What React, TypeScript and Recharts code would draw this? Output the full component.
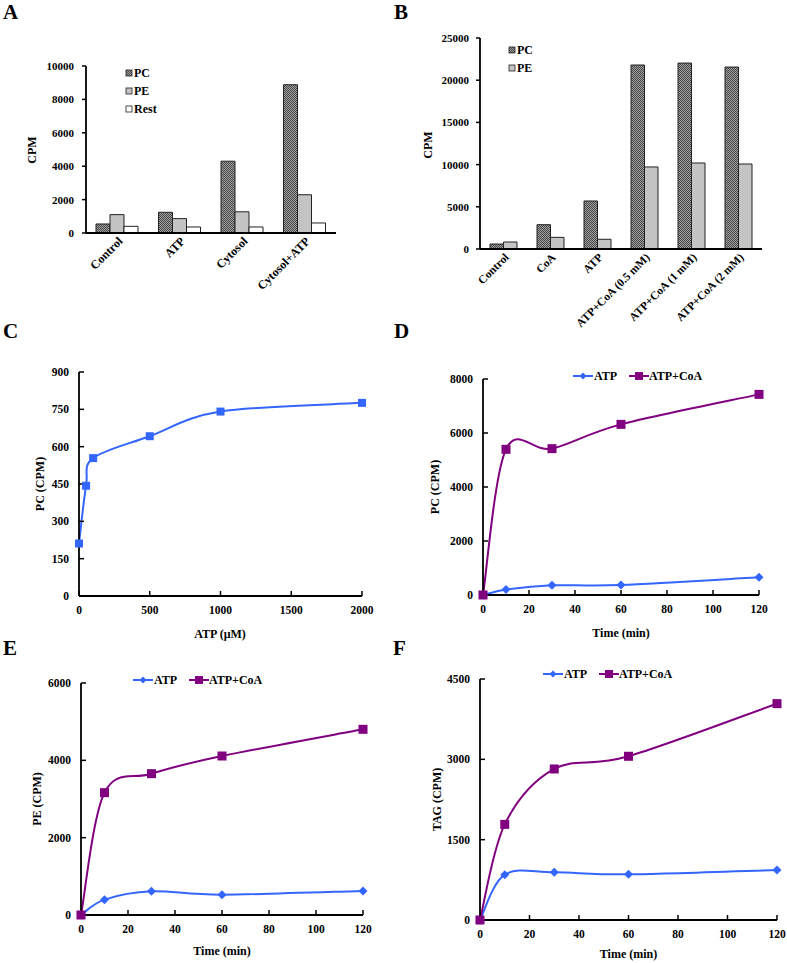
import React from 'react';
import { BarChart, Bar, LineChart, Line, XAxis, YAxis, Legend } from 'recharts';

const FONT = '"Liberation Serif", "Times New Roman", serif';

// ---------- Panel A ----------
const catsA = ['Control', 'ATP', 'Cytosol', 'Cytosol+ATP'];
const pcA = [540, 1240, 4300, 8880];
const peA = [1100, 860, 1270, 2290];
const restA = [400, 360, 360, 600];
const ticksA = [0, 2000, 4000, 6000, 8000, 10000];

// ---------- Panel B ----------
const catsB = ['Control', 'CoA', 'ATP', 'ATP+CoA (0.5 mM)', 'ATP+CoA (1 mM)', 'ATP+CoA (2 mM)'];
const pcB = [590, 2880, 5690, 21800, 22030, 21560];
const peB = [830, 1380, 1150, 9720, 10190, 10070];
const ticksB = [0, 5000, 10000, 15000, 20000, 25000];

// ---------- Panel C ----------
const atpConcC = [0, 50, 100, 500, 1000, 2000];
const pcC = [211, 443, 554, 642, 741, 776];
const xTicksC = [0, 500, 1000, 1500, 2000];
const yTicksC = [0, 150, 300, 450, 600, 750, 900];

// ---------- Panels D, E, F ----------
const timeMin = [0, 10, 30, 60, 120];
const timeTicks = [0, 20, 40, 60, 80, 100, 120];
const pcAtpD = [0, 200, 358, 370, 654];
const pcAtpCoaD = [0, 5395, 5420, 6320, 7430];
const yTicksD = [0, 2000, 4000, 6000, 8000];
const peAtpE = [0, 397, 612, 526, 621];
const peAtpCoaE = [0, 3164, 3655, 4112, 4802];
const yTicksE = [0, 2000, 4000, 6000];
const tagAtpF = [0, 846, 890, 853, 934];
const tagAtpCoaF = [0, 1786, 2820, 3057, 4040];
const yTicksF = [0, 1500, 3000, 4500];

const BLUE = '#3366ff';
const PURPLE = '#800080';

const dataA = catsA.map((c, i) => ({ c, pc: pcA[i], pe: peA[i], rest: restA[i] }));
const dataB = catsB.map((c, i) => ({ c, pc: pcB[i], pe: peB[i] }));
const dataC = atpConcC.map((x, i) => ({ x, pc: pcC[i] }));
const mkTime = (a: number[], b: number[]) => timeMin.map((t, i) => ({ t, atp: a[i], coa: b[i] }));
const dataD = mkTime(pcAtpD, pcAtpCoaD);
const dataE = mkTime(peAtpE, peAtpCoaE);
const dataF = mkTime(tagAtpF, tagAtpCoaF);

// Excel-like smoothed line (Catmull-Rom through points)
function smoothCurve(context: any) {
  let pts: number[][] = [];
  return {
    areaStart() {},
    areaEnd() {},
    lineStart() {
      pts = [];
    },
    lineEnd() {
      const n = pts.length;
      if (!n) return;
      context.moveTo(pts[0][0], pts[0][1]);
      for (let i = 0; i < n - 1; i++) {
        const p0 = pts[i > 0 ? i - 1 : i];
        const p1 = pts[i];
        const p2 = pts[i + 1];
        const p3 = pts[i + 2 < n ? i + 2 : i + 1];
        context.bezierCurveTo(
          p1[0] + (p2[0] - p0[0]) / 6,
          p1[1] + (p2[1] - p0[1]) / 6,
          p2[0] - (p3[0] - p1[0]) / 6,
          p2[1] - (p3[1] - p1[1]) / 6,
          p2[0],
          p2[1]
        );
      }
    },
    point(x: number, y: number) {
      pts.push([+x, +y]);
    },
  };
}

const squareDot = (color: string, size: number) => (props: any) => {
  const { cx, cy, index } = props;
  if (cx == null || cy == null) return <g key={index} />;
  return <rect key={index} x={cx - size / 2} y={cy - size / 2} width={size} height={size} fill={color} />;
};
const diamondDot = (color: string, r: number) => (props: any) => {
  const { cx, cy, index } = props;
  if (cx == null || cy == null) return <g key={index} />;
  return (
    <path key={index} d={`M${cx},${cy - r}L${cx + r},${cy}L${cx},${cy + r}L${cx - r},${cy}Z`} fill={color} />
  );
};

const tickStyle = { fontFamily: FONT, fontWeight: 'bold' as const, fontSize: 11.5, fill: '#000' };

const yTitle = (text: string, x: number, y: number) => () =>
  (
    <text
      x={x}
      y={y}
      transform={`rotate(-90 ${x} ${y})`}
      textAnchor="middle"
      dominantBaseline="central"
      fontFamily={FONT}
      fontWeight="bold"
      fontSize={12}
      fill="#000"
    >
      {text}
    </text>
  );
const xTitle = (text: string, x: number, y: number) => () =>
  (
    <text x={x} y={y} textAnchor="middle" dominantBaseline="central" fontFamily={FONT} fontWeight="bold" fontSize={12} fill="#000">
      {text}
    </text>
  );

const makeRotTick = (fs: number) => (props: any) => {
  const { x, y, payload } = props;
  const ax = x + 6;
  const ay = y + 9;
  return (
    <text x={ax} y={ay} transform={`rotate(-45 ${ax} ${ay})`} textAnchor="end" fontFamily={FONT} fontWeight="bold" fontSize={fs} fill="#000">
      {payload.value}
    </text>
  );
};
const RotTickA = makeRotTick(12);
const RotTickB = makeRotTick(11.5);

const Pattern = ({ id }: { id: string }) => (
  <pattern id={id} width="2" height="2" patternUnits="userSpaceOnUse">
    <rect width="2" height="2" fill="#a0a0a0" />
    <rect width="1" height="1" fill="#474747" />
    <rect x="1" y="1" width="1" height="1" fill="#474747" />
  </pattern>
);

const BarLegend = ({ items }: { items: { label: string; fill: string }[] }) => (
  <svg width={60} height={items.length * 18} style={{ display: 'block' }}>
    {items.map((it, i) => (
      <g key={it.label}>
        <rect x={1} y={i * 18 + 6} width={6} height={6} fill={it.fill} stroke="#222" strokeWidth={0.8} />
        <text x={9} y={i * 18 + 9} dominantBaseline="central" fontFamily={FONT} fontWeight="bold" fontSize={12} fill="#000">
          {it.label}
        </text>
      </g>
    ))}
  </svg>
);

const LineLegend = () => (
  <svg width={140} height={16} style={{ display: 'block' }}>
    <line x1={0} y1={8} x2={20} y2={8} stroke={BLUE} strokeWidth={2} />
    <path d="M10,4.5L13.5,8L10,11.5L6.5,8Z" fill={BLUE} />
    <text x={21} y={8} dominantBaseline="central" fontFamily={FONT} fontWeight="bold" fontSize={12} fill="#000">
      ATP
    </text>
    <line x1={56} y1={8} x2={76} y2={8} stroke={PURPLE} strokeWidth={2} />
    <rect x={62} y={4} width={8} height={8} fill={PURPLE} />
    <text x={76} y={8} dominantBaseline="central" fontFamily={FONT} fontWeight="bold" fontSize={12} fill="#000">
      ATP+CoA
    </text>
  </svg>
);

const Letter = ({ ch, x, y }: { ch: string; x: number; y: number }) => (
  <div
    style={{
      position: 'absolute',
      left: x,
      top: y,
      fontFamily: FONT,
      fontWeight: 'bold',
      fontSize: 21,
      lineHeight: '21px',
      color: '#000',
    }}
  >
    {ch}
  </div>
);

const axisLine = { stroke: '#000', strokeWidth: 1.8 };

function TimeChart({
  data,
  yTicks,
  yMax,
  margin,
  width,
  height,
  legendPos,
  yLabel,
  yLabelX,
  xLabelY,
}: any) {
  const plotTop = margin.top;
  const plotBottom = height - margin.bottom - 40;
  const plotLeft = margin.left + 50;
  const plotRight = width - margin.right;
  return (
    <LineChart width={width} height={height} data={data} margin={margin}>
      <XAxis
        dataKey="t"
        type="number"
        domain={[0, 120]}
        ticks={timeTicks}
        interval={0}
        height={40}
        axisLine={axisLine}
        tickLine={{ stroke: '#000', strokeWidth: 1.5 }}
        tickSize={-5}
        tickMargin={15}
        tick={tickStyle}
        label={xTitle('Time (min)', (plotLeft + plotRight) / 2, xLabelY)}
      />
      <YAxis
        type="number"
        domain={[0, yMax]}
        ticks={yTicks}
        interval={0}
        width={50}
        axisLine={axisLine}
        tickLine={{ stroke: '#000', strokeWidth: 1.5 }}
        tickSize={-5}
        tickMargin={15}
        tick={tickStyle}
        label={yTitle(yLabel, yLabelX, (plotTop + plotBottom) / 2)}
      />
      <Legend
        layout="horizontal"
        verticalAlign="middle"
        align="center"
        wrapperStyle={{ left: legendPos[0], top: legendPos[1], width: 140, height: 16 }}
        content={() => <LineLegend />}
      />
      <Line
        dataKey="atp"
        type={smoothCurve as any}
        stroke={BLUE}
        strokeWidth={2}
        dot={diamondDot(BLUE, 4.5)}
        activeDot={false}
        isAnimationActive={false}
      />
      <Line
        dataKey="coa"
        type={smoothCurve as any}
        stroke={PURPLE}
        strokeWidth={2}
        dot={squareDot(PURPLE, 9)}
        activeDot={false}
        isAnimationActive={false}
      />
    </LineChart>
  );
}

export default function App() {
  return (
    <div style={{ position: 'absolute', left: 0, top: 0, width: 787, height: 963, background: '#fff', overflow: 'hidden' }}>
      {/* Panel A */}
      <div style={{ position: 'absolute', left: 0, top: 0 }}>
        <BarChart width={390} height={320} data={dataA} margin={{ top: 66, right: 54, bottom: 27, left: 36 }} barGap={0} barSize={14}>
          <defs>
            <Pattern id="pcPatA" />
          </defs>
          <XAxis dataKey="c" height={60} axisLine={axisLine} tickLine={false} tickSize={0} tickMargin={0} interval={0} tick={<RotTickA />} />
          <YAxis
            type="number"
            domain={[0, 10000]}
            ticks={ticksA}
            interval={0}
            width={50}
            axisLine={axisLine}
            tickLine={{ stroke: '#000', strokeWidth: 1.5 }}
            tickSize={4}
            tickMargin={8}
            tick={{ ...tickStyle, fontSize: 11 }}
            label={yTitle('CPM', 32, 150)}
          />
          <Legend
            layout="horizontal"
            verticalAlign="middle"
            align="center"
            wrapperStyle={{ left: 125, top: 64, width: 60, height: 54 }}
            content={() => (
              <BarLegend
                items={[
                  { label: 'PC', fill: 'url(#pcPatA)' },
                  { label: 'PE', fill: '#c4c4c4' },
                  { label: 'Rest', fill: '#fff' },
                ]}
              />
            )}
          />
          <Bar dataKey="pc" fill="url(#pcPatA)" stroke="#222" strokeWidth={1} isAnimationActive={false} />
          <Bar dataKey="pe" fill="#c4c4c4" stroke="#222" strokeWidth={1} isAnimationActive={false} />
          <Bar dataKey="rest" fill="#fff" stroke="#222" strokeWidth={1} isAnimationActive={false} />
        </BarChart>
      </div>

      {/* Panel B */}
      <div style={{ position: 'absolute', left: 390, top: 0 }}>
        <BarChart width={397} height={335} data={dataB} margin={{ top: 38, right: 25, bottom: 26, left: 40 }} barGap={0} barSize={13.5}>
          <defs>
            <Pattern id="pcPatB" />
          </defs>
          <XAxis dataKey="c" height={60} axisLine={axisLine} tickLine={false} tickSize={0} tickMargin={0} interval={0} tick={<RotTickB />} />
          <YAxis
            type="number"
            domain={[0, 25000]}
            ticks={ticksB}
            interval={0}
            width={50}
            axisLine={axisLine}
            tickLine={{ stroke: '#000', strokeWidth: 1.5 }}
            tickSize={4}
            tickMargin={7}
            tick={{ ...tickStyle, fontSize: 11 }}
            label={yTitle('CPM', 38, 145)}
          />
          <Legend
            layout="horizontal"
            verticalAlign="middle"
            align="center"
            wrapperStyle={{ left: 118, top: 41, width: 60, height: 36 }}
            content={() => (
              <BarLegend
                items={[
                  { label: 'PC', fill: 'url(#pcPatB)' },
                  { label: 'PE', fill: '#c4c4c4' },
                ]}
              />
            )}
          />
          <Bar dataKey="pc" fill="url(#pcPatB)" stroke="#222" strokeWidth={1} isAnimationActive={false} />
          <Bar dataKey="pe" fill="#c4c4c4" stroke="#222" strokeWidth={1} isAnimationActive={false} />
        </BarChart>
      </div>

      {/* Panel C */}
      <div style={{ position: 'absolute', left: 0, top: 320 }}>
        <LineChart width={390} height={330} data={dataC} margin={{ top: 52, right: 28, bottom: 14, left: 29 }}>
          <XAxis
            dataKey="x"
            type="number"
            domain={[0, 2000]}
            ticks={xTicksC}
            interval={0}
            height={40}
            axisLine={axisLine}
            tickLine={{ stroke: '#000', strokeWidth: 1.5 }}
            tickSize={-5}
            tickMargin={15}
            tick={tickStyle}
            label={xTitle('ATP (μM)', 220, 314)}
          />
          <YAxis
            type="number"
            domain={[0, 900]}
            ticks={yTicksC}
            interval={0}
            width={50}
            axisLine={axisLine}
            tickLine={{ stroke: '#000', strokeWidth: 1.5 }}
            tickSize={-5}
            tickMargin={15}
            tick={tickStyle}
            label={yTitle('PC (CPM)', 40, 164)}
          />
          <Line
            dataKey="pc"
            type={smoothCurve as any}
            stroke={BLUE}
            strokeWidth={2}
            dot={squareDot(BLUE, 8)}
            activeDot={false}
            isAnimationActive={false}
          />
        </LineChart>
      </div>

      {/* Panel D */}
      <div style={{ position: 'absolute', left: 390, top: 320 }}>
        <TimeChart
          data={dataD}
          yTicks={yTicksD}
          yMax={8000}
          width={397}
          height={320}
          margin={{ top: 59, right: 28, bottom: 5, left: 43 }}
          legendPos={[183, 48]}
          yLabel="PC (CPM)"
          yLabelX={45}
          xLabelY={313}
        />
      </div>

      {/* Panel E */}
      <div style={{ position: 'absolute', left: 0, top: 640 }}>
        <TimeChart
          data={dataE}
          yTicks={yTicksE}
          yMax={6000}
          width={390}
          height={323}
          margin={{ top: 43, right: 27, bottom: 8, left: 31 }}
          legendPos={[133, 32]}
          yLabel="PE (CPM)"
          yLabelX={37}
          xLabelY={311}
        />
      </div>

      {/* Panel F */}
      <div style={{ position: 'absolute', left: 390, top: 640 }}>
        <TimeChart
          data={dataF}
          yTicks={yTicksF}
          yMax={4500}
          width={397}
          height={323}
          margin={{ top: 39, right: 10, bottom: 3, left: 40 }}
          legendPos={[153, 26]}
          yLabel="TAG (CPM)"
          yLabelX={47}
          xLabelY={314}
        />
      </div>

      <Letter ch="A" x={3} y={2} />
      <Letter ch="B" x={394} y={2} />
      <Letter ch="C" x={3} y={321} />
      <Letter ch="D" x={394} y={321} />
      <Letter ch="E" x={3} y={638} />
      <Letter ch="F" x={393} y={638} />
    </div>
  );
}
